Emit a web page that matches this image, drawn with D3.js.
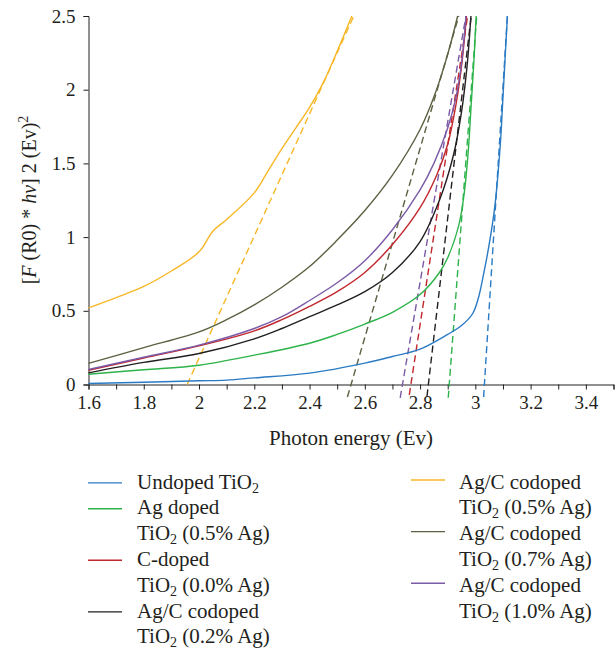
<!DOCTYPE html>
<html>
<head>
<meta charset="utf-8">
<script src="https://cdn.jsdelivr.net/npm/d3@7"></script>
<style>
  html, body { margin: 0; padding: 0; background: #fff; }
  svg { display: block; }
</style>
</head>
<body>
<svg id="chart" width="615" height="654"></svg>
<script>
// ---------------- DATA ----------------
const seriesNames = ["Undoped", "Ag 0.5", "C 0.0", "AgC 0.2", "AgC 0.5", "AgC 0.7", "AgC 1.0"];
const seriesColors = ["#2a7bc4", "#2db34a", "#c1272d", "#231f20", "#f8b727", "#5c6142", "#7b5aa6"];

const undopedE = [1.6, 1.8, 2.0, 2.1, 2.2, 2.4, 2.6, 2.7, 2.8, 2.9, 2.95, 2.99, 3.01, 3.03, 3.05, 3.07, 3.09, 3.1, 3.116];
const undopedV = [0.007, 0.015, 0.025, 0.03, 0.045, 0.077, 0.145, 0.19, 0.24, 0.34, 0.40, 0.48, 0.58, 0.75, 0.95, 1.2, 1.62, 1.95, 2.5];

const agE = [1.6, 1.8, 2.0, 2.2, 2.4, 2.5, 2.6, 2.7, 2.8, 2.87, 2.9, 2.94, 2.96, 2.975, 2.985, 2.995, 3.003];
const agV = [0.07, 0.1, 0.131, 0.199, 0.28, 0.34, 0.41, 0.49, 0.61, 0.76, 0.86, 1.08, 1.3, 1.6, 1.9, 2.2, 2.5];

const cE = [1.6, 1.8, 2.0, 2.2, 2.3, 2.4, 2.5, 2.6, 2.7, 2.8, 2.86, 2.9, 2.93, 2.95, 2.968];
const cV = [0.097, 0.18, 0.262, 0.364, 0.44, 0.53, 0.63, 0.76, 0.95, 1.2, 1.42, 1.63, 1.9, 2.16, 2.5];

const agc02E = [1.6, 1.8, 2.0, 2.2, 2.3, 2.4, 2.5, 2.6, 2.7, 2.8, 2.87, 2.92, 2.95, 2.97, 2.984];
const agc02V = [0.079, 0.15, 0.21, 0.31, 0.38, 0.46, 0.54, 0.63, 0.76, 0.97, 1.25, 1.55, 1.85, 2.16, 2.5];

const agc05E = [1.6, 1.7, 1.8, 1.9, 2.0, 2.05, 2.1, 2.2, 2.25, 2.3, 2.35, 2.4, 2.45, 2.5, 2.553];
const agc05V = [0.52, 0.59, 0.665, 0.77, 0.9, 1.04, 1.12, 1.3, 1.45, 1.6, 1.74, 1.88, 2.05, 2.26, 2.5];

const agc07E = [1.6, 1.8, 2.0, 2.1, 2.2, 2.3, 2.4, 2.5, 2.6, 2.7, 2.8, 2.85, 2.9, 2.936];
const agc07V = [0.143, 0.25, 0.357, 0.44, 0.54, 0.66, 0.8, 0.98, 1.18, 1.42, 1.73, 1.95, 2.24, 2.5];

const agc10E = [1.6, 1.8, 2.0, 2.2, 2.3, 2.4, 2.5, 2.6, 2.7, 2.8, 2.85, 2.9, 2.93, 2.95, 2.966];
const agc10V = [0.102, 0.185, 0.267, 0.38, 0.46, 0.57, 0.69, 0.84, 1.05, 1.32, 1.5, 1.74, 1.95, 2.18, 2.5];

// Tangent (Tauc extrapolation) lines: energy at start value, energy at 2.5
const tangentStartE = [3.03, 2.902, 2.761, 2.825, 1.957, 2.537, 2.728];
const tangentEndE   = [3.116, 3.005, 2.972, 2.985, 2.56, 2.94, 2.966];
const tangentStartV = [-0.085, -0.09, -0.07, -0.08, 0, -0.085, -0.09];
const tangentEndV   = [2.5, 2.5, 2.5, 2.5, 2.5, 2.5, 2.5];

const xTicks = [1.6, 1.7, 1.8, 1.9, 2.0, 2.1, 2.2, 2.3, 2.4, 2.5, 2.6, 2.7, 2.8, 2.9, 3.0, 3.1, 3.2, 3.3, 3.4, 3.5];
const xTickLabels = ["1.6", "", "1.8", "", "2", "", "2.2", "", "2.4", "", "2.6", "", "2.8", "", "3", "", "3.2", "", "3.4", ""];
const yTicks = [0, 0.5, 1, 1.5, 2, 2.5];
const yTickLabels = ["0", "0.5", "1", "1.5", "2", "2.5"];

const legendLeft = [
  {i: 0, lines: [["Undoped TiO", "2", ""]]},
  {i: 1, lines: [["Ag doped", "", ""], ["TiO", "2", " (0.5% Ag)"]]},
  {i: 2, lines: [["C-doped", "", ""], ["TiO", "2", " (0.0% Ag)"]]},
  {i: 3, lines: [["Ag/C codoped", "", ""], ["TiO", "2", " (0.2% Ag)"]]}
];
const legendRight = [
  {i: 4, lines: [["Ag/C codoped", "", ""], ["TiO", "2", " (0.5% Ag)"]]},
  {i: 5, lines: [["Ag/C codoped", "", ""], ["TiO", "2", " (0.7% Ag)"]]},
  {i: 6, lines: [["Ag/C codoped", "", ""], ["TiO", "2", " (1.0% Ag)"]]}
];

const seriesE = [undopedE, agE, cE, agc02E, agc05E, agc07E, agc10E];
const seriesV = [undopedV, agV, cV, agc02V, agc05V, agc07V, agc10V];

// ---------------- CHART ----------------
const FONT = "Tinos";
const svg = d3.select("#chart").attr("font-family", FONT);
const x = d3.scaleLinear().domain([1.6, 3.5]).range([88.5, 613.5]);
const y = d3.scaleLinear().domain([0, 2.5]).range([384.5, 16]);

const axisColor = "#231f20";

const xAxis = d3.axisBottom(x).tickValues(xTicks).tickSize(5).tickPadding(6)
  .tickFormat((d, i) => xTickLabels[i]);
const gx = svg.append("g").attr("transform", `translate(0,${y(0)})`).call(xAxis);
gx.attr("font-family", FONT);
gx.select(".domain").attr("stroke", axisColor);
gx.selectAll(".tick line").attr("stroke", axisColor);
gx.selectAll(".tick text").attr("font-family", FONT).attr("font-size", 19).attr("fill", axisColor);

const yAxis = d3.axisLeft(y).tickValues(yTicks).tickSize(5).tickPadding(8)
  .tickFormat((d, i) => yTickLabels[i]);
const gy = svg.append("g").attr("transform", `translate(${x(1.6)},0)`).call(yAxis);
gy.attr("font-family", FONT);
gy.select(".domain").attr("stroke", axisColor);
gy.selectAll(".tick line").attr("stroke", axisColor);
gy.selectAll(".tick text").attr("font-family", FONT).attr("font-size", 19).attr("fill", axisColor);

svg.append("text").attr("x", 351).attr("y", 445).attr("text-anchor", "middle")
  .attr("font-family", FONT).attr("fill", axisColor).attr("font-size", 21).text("Photon energy (Ev)");

const yt = svg.append("text").attr("transform", "translate(36,200) rotate(-90)")
  .attr("font-family", FONT).attr("fill", axisColor).attr("text-anchor", "middle").attr("font-size", 20);
yt.append("tspan").text("[");
yt.append("tspan").attr("font-style", "italic").text("F");
yt.append("tspan").text(" (R0) * ");
yt.append("tspan").attr("font-style", "italic").text("hv");
yt.append("tspan").text("] 2 (Ev)");
yt.append("tspan").attr("dy", -8).attr("font-size", 14).text("2");

const line = d3.line().x(d => x(d[0])).y(d => y(d[1])).curve(d3.curveCatmullRom.alpha(0.5));
const plot = svg.append("g");

seriesNames.forEach((name, i) => {
  plot.append("path")
    .datum([[tangentStartE[i], tangentStartV[i]], [tangentEndE[i], tangentEndV[i]]])
    .attr("d", d3.line().x(d => x(d[0])).y(d => y(d[1])))
    .attr("fill", "none").attr("stroke", seriesColors[i])
    .attr("stroke-width", 1.4).attr("stroke-dasharray", "7,4");
});

seriesNames.forEach((name, i) => {
  const pts = seriesE[i].map((e, k) => [e, seriesV[i][k]]);
  plot.append("path").datum(pts).attr("d", line)
    .attr("fill", "none").attr("stroke", seriesColors[i]).attr("stroke-width", 1.4);
});

function drawLegend(entries, lineX1, lineX2, textX, lineOffset) {
  let row = 0;
  const base0 = 488.5, step = 25.8;
  entries.forEach(ent => {
    const b = base0 + row * step;
    svg.append("line").attr("x1", lineX1).attr("x2", lineX2)
      .attr("y1", b - lineOffset).attr("y2", b - lineOffset)
      .attr("stroke", seriesColors[ent.i]).attr("stroke-width", 1.4);
    ent.lines.forEach((ln, j) => {
      const t = svg.append("text").attr("x", textX).attr("y", base0 + (row + j) * step)
        .attr("font-family", FONT).attr("fill", axisColor).attr("font-size", 21);
      t.append("tspan").text(ln[0]);
      if (ln[1]) t.append("tspan").attr("dy", 4).attr("font-size", 14).text(ln[1]);
      if (ln[2]) t.append("tspan").attr("dy", -4).text(ln[2]);
    });
    row += ent.lines.length;
  });
}
drawLegend(legendLeft, 88, 122, 137, 5.6);
drawLegend(legendRight, 411, 445, 459, 8.5);
</script>
</body>
</html>
